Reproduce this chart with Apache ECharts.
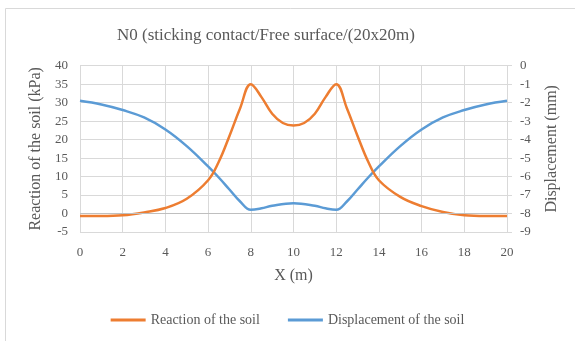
<!DOCTYPE html>
<html><head><meta charset="utf-8">
<script src="https://cdn.jsdelivr.net/npm/echarts@6/dist/echarts.min.js"></script>
<style>html,body{margin:0;padding:0;background:#fff}#c{width:575px;height:341px}</style>
</head><body><div id="c"></div>
<script>
const xReaction = [0,1,2,3,4,5,6,6.5,7,7.5,8,8.5,9,9.5,10,10.5,11,11.5,12,12.5,13,13.5,14,15,16,17,18,19,20];
const reaction  = [-0.7,-0.7,-0.5,0.3,1.5,4,9,14,21,28.5,35,31.5,27,24.5,23.8,24.5,27,31.5,35,28.5,21,14,9,4.5,2,0.4,-0.5,-0.7,-0.7];
const xDisp = [0,1,2,3,4,5,6,6.5,7,7.5,8,8.5,9,10,11,11.5,12,12.5,13,13.5,14,15,16,17,18,19,20];
const displacement = [-1.9,-2.1,-2.4,-2.8,-3.45,-4.35,-5.45,-6.05,-6.7,-7.35,-7.8,-7.72,-7.58,-7.45,-7.58,-7.72,-7.8,-7.35,-6.7,-6.05,-5.45,-4.35,-3.45,-2.8,-2.4,-2.1,-1.9];
const xTicks = [0,2,4,6,8,10,12,14,16,18,20];

const font = 'Liberation Serif';
const txt = '#595959';
const chart = echarts.init(document.getElementById('c'));
chart.setOption({
  animation:false,
  title:{text:'N0 (sticking contact/Free surface/(20x20m)',left:112,top:22,
    textStyle:{fontFamily:font,fontSize:17,fontWeight:'normal',color:txt}},
  graphic:[
    {type:'line',shape:{x1:5.5,y1:8.5,x2:575,y2:8.5},style:{stroke:'#d9d9d9',lineWidth:1},silent:true},
    {type:'line',shape:{x1:5.5,y1:8.5,x2:5.5,y2:341},style:{stroke:'#d9d9d9',lineWidth:1},silent:true}
  ],
  grid:{left:80,right:68,top:65.7,bottom:109},
  legend:{bottom:9,left:'center',itemWidth:35,itemHeight:3,itemGap:28,icon:'rect',
    textStyle:{fontFamily:font,fontSize:14,color:txt},
    data:['Reaction of the soil','Displacement of the soil']},
  xAxis:{type:'value',min:0,max:20,interval:2,
    name:'X (m)',nameLocation:'middle',nameGap:36,nameTextStyle:{fontFamily:font,fontSize:16,color:txt},
    axisLine:{show:false},axisTick:{show:false},
    axisLabel:{fontFamily:font,fontSize:13,color:txt,margin:14,
      formatter:v=>xTicks.includes(v)?String(v):''},
    splitLine:{show:true,lineStyle:{color:'#d9d9d9',width:1}}},
  yAxis:[
    {type:'value',min:-5,max:40,interval:5,
      name:'Reaction of the soil (kPa)',nameLocation:'middle',nameGap:32,
      nameTextStyle:{fontFamily:font,fontSize:16,color:txt},
      axisLine:{show:false},axisTick:{show:false},
      axisLabel:{fontFamily:font,fontSize:13,color:txt,margin:12},
      splitLine:{show:true,lineStyle:{color:'#d9d9d9',width:1}}},
    {type:'value',min:-9,max:0,interval:1,position:'right',
      name:'Displacement (mm)',nameLocation:'middle',nameGap:37,nameRotate:90,
      nameTextStyle:{fontFamily:font,fontSize:16,color:txt},
      axisLine:{show:false},axisTick:{show:true,length:5,lineStyle:{color:'#d9d9d9'}},
      axisLabel:{fontFamily:font,fontSize:13,color:txt,margin:13},
      splitLine:{show:false}}
  ],
  series:[
    {name:'Reaction of the soil',type:'line',yAxisIndex:0,smooth:0.4,showSymbol:false,
      data:xReaction.map((x,i)=>[x,reaction[i]]),
      lineStyle:{color:'#ED7D31',width:2.5},itemStyle:{color:'#ED7D31'},
      markLine:{silent:true,symbol:'none',label:{show:false},
        lineStyle:{color:'#bfbfbf',type:'solid',width:1},data:[{yAxis:0}]},z:3},
    {name:'Displacement of the soil',type:'line',yAxisIndex:1,smooth:0.4,showSymbol:false,
      data:xDisp.map((x,i)=>[x,displacement[i]]),
      lineStyle:{color:'#5B9BD5',width:2.5},itemStyle:{color:'#5B9BD5'},z:2}
  ]
});
</script></body></html>
